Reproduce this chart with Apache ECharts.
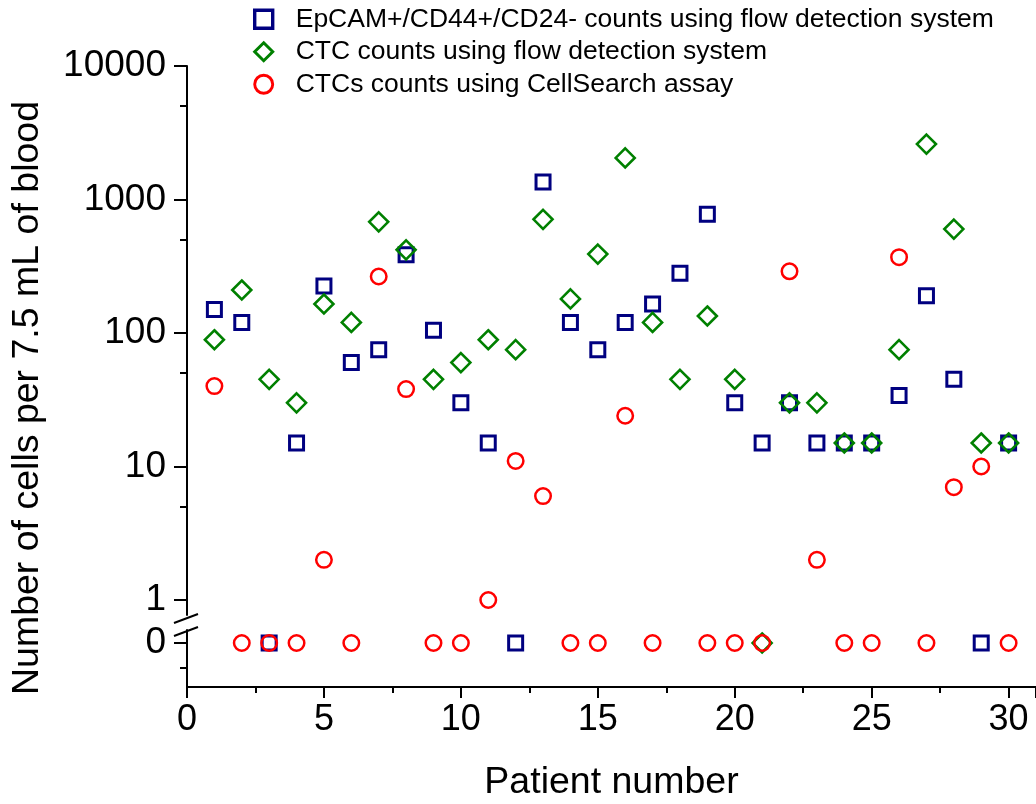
<!DOCTYPE html>
<html>
<head>
<meta charset="utf-8">
<title>CTC counts per patient</title>
<script src="https://cdn.jsdelivr.net/npm/echarts@6.0.0/dist/echarts.min.js"></script>
<style>
  html, body { margin: 0; padding: 0; background: #fff; }
  #chart { width: 1036px; height: 804px; }
</style>
</head>
<body>
<div id="chart"></div>
<script>
// patient numbers 1..30
const patients = [1, 2, 3, 4, 5, 6, 7, 8, 9, 10, 11, 12, 13, 14, 15,
  16, 17, 18, 19, 20, 21, 22, 23, 24, 25, 26, 27, 28, 29, 30];
// cells per 7.5 mL, 0 goes below the axis break, null = no point
const epcamCounts = [150, 120, 0, 15, 225, 60, 75, 385, 105, 30, 15, 0, 1350, 120, 75,
  120, 165, 280, 775, 30, 15, 30, 15, 15, 15, 34, 190, 45, 0, 15];
const ctcFlowCounts = [89, 210, 45, 30, 165, 120, 680, 420, 45, 60, 89, 75, 710, 180, 390,
  2050, 120, 45, 134, 45, 0, 30, 30, 15, 15, 75, 2600, 600, 15, 15];
const cellSearchCounts = [40, 0, 0, 0, 2, 0, 265, 38, 0, 0, 1, 11, 6, 0, 0,
  24, 0, null, 0, 0, 0, 290, 2, 0, 0, 370, 0, 7, 10, 0];
const logTicks = [1, 10, 100, 1000, 10000];
const logMinorTicks = [5, 50, 500, 5000];

const seriesNames = [
  'EpCAM+/CD44+/CD24- counts using flow detection system',
  'CTC counts using flow detection system',
  'CTCs counts using CellSearch assay'
];
const seriesColors = ['#000080', '#008000', '#ff0000'];
const seriesBorders = [3, 2.6, 2.5];

const FONT = '"Liberation Sans", Arial, sans-serif';
const GRID_LEFT = 187;
const GRID_W = 1036 - GRID_LEFT;
const AXIS_LINE = { show: true, onZero: false, lineStyle: { color: '#000', width: 2 } };
const NO_LINE = { show: false, onZero: false };

// positive counts go to the log grid, zeros to the small grid under the break
function positives(vals) {
  const out = [];
  vals.forEach((v, i) => { if (v != null && v > 0) out.push([patients[i], v]); });
  return out;
}
function zeros(vals) {
  const out = [];
  vals.forEach((v, i) => { if (v === 0) out.push([patients[i], 0]); });
  return out;
}

function makeSeries(idx, vals, symbol, size) {
  const base = {
    name: seriesNames[idx],
    type: 'scatter',
    symbol: symbol,
    symbolSize: size,
    itemStyle: {
      color: 'rgba(255,255,255,0)', borderColor: seriesColors[idx],
      borderWidth: seriesBorders[idx], opacity: 1
    },
    emphasis: { disabled: true },
    animation: false
  };
  return [
    Object.assign({}, base, { xAxisIndex: 0, yAxisIndex: 0, data: positives(vals) }),
    Object.assign({}, base, { xAxisIndex: 1, yAxisIndex: 2, data: zeros(vals) })
  ];
}

// short ticks: a right-side axis pulled back onto the left edge, ticks pointing left
function minorTickAxis(gridIndex, type, min, max, values) {
  return {
    gridIndex: gridIndex, type: type, min: min, max: max,
    position: 'right', offset: -GRID_W,
    axisLine: NO_LINE,
    axisTick: { show: true, inside: true, length: 7, customValues: values, lineStyle: { color: '#000', width: 2 } },
    axisLabel: { show: false },
    splitLine: { show: false }
  };
}

const chart = echarts.init(document.getElementById('chart'));
chart.setOption({
  backgroundColor: '#fff',
  animation: false,
  textStyle: { fontFamily: FONT },
  legend: {
    data: seriesNames.map((n, i) => ({
      name: n,
      itemStyle: { borderWidth: seriesBorders[i] + 0.4, borderColor: seriesColors[i] }
    })),
    orient: 'vertical',
    left: 248,
    top: -2,
    itemWidth: 18,
    itemHeight: 18,
    itemGap: 0,
    selectedMode: false,
    textStyle: { fontSize: 26.5, color: '#000', fontFamily: FONT, lineHeight: 32.5, padding: [0, 0, 0, 18] }
  },
  grid: [
    { left: GRID_LEFT, right: 0, top: 66, height: 549, outerBoundsMode: 'none' },
    { left: GRID_LEFT, right: 0, top: 630, bottom: 117, outerBoundsMode: 'none' }
  ],
  xAxis: [
    { gridIndex: 0, type: 'value', min: 0, max: 31, show: false },
    {
      gridIndex: 1, type: 'value', min: 0, max: 31, interval: 5,
      axisLine: AXIS_LINE,
      axisTick: { show: true, length: 11, lineStyle: { color: '#000', width: 2 } },
      minorTick: { show: true, splitNumber: 2, length: 6, lineStyle: { color: '#000', width: 2 } },
      splitLine: { show: false },
      axisLabel: { fontSize: 36, color: '#000', margin: 15, fontFamily: FONT, showMaxLabel: false },
      name: 'Patient number',
      nameLocation: 'middle',
      nameGap: 77,
      nameTextStyle: { fontSize: 37.5, color: '#000', fontFamily: FONT }
    }
  ],
  yAxis: [
    {
      gridIndex: 0, type: 'log', logBase: 10, min: 0.772, max: 10000, position: 'left',
      axisLine: AXIS_LINE,
      axisTick: { show: true, inside: false, length: 13, customValues: logTicks, lineStyle: { color: '#000', width: 2 } },
      axisLabel: {
        fontSize: 37, color: '#000', margin: 21, fontFamily: FONT,
        customValues: logTicks,
        formatter: v => String(Math.round(v))
      },
      splitLine: { show: false }
    },
    minorTickAxis(0, 'log', 0.772, 10000, logMinorTicks),
    {
      gridIndex: 1, type: 'value', min: -1.76, max: 0.52, position: 'left',
      axisLine: AXIS_LINE,
      axisTick: { show: true, inside: false, length: 13, customValues: [0], lineStyle: { color: '#000', width: 2 } },
      axisLabel: {
        fontSize: 37, color: '#000', margin: 21, fontFamily: FONT,
        customValues: [0], formatter: () => '0'
      },
      splitLine: { show: false }
    },
    minorTickAxis(1, 'value', -1.76, 0.52, [-1])
  ],
  series: [].concat(
    makeSeries(0, epcamCounts, 'rect', 14),
    makeSeries(1, ctcFlowCounts, 'diamond', 19),
    makeSeries(2, cellSearchCounts, 'circle', 15.5)
  ),
  graphic: [
    // axis break marks
    { type: 'line', shape: { x1: 174, y1: 623, x2: 198, y2: 614 }, style: { stroke: '#000', lineWidth: 2 } },
    { type: 'line', shape: { x1: 174, y1: 636, x2: 198, y2: 627 }, style: { stroke: '#000', lineWidth: 2 } },
    {
      type: 'text', x: 28, y: 398, rotation: Math.PI / 2,
      style: {
        text: 'Number of cells per 7.5 mL of blood',
        fontSize: 37.5, fontFamily: FONT, fill: '#000',
        textAlign: 'center', textVerticalAlign: 'middle'
      }
    }
  ]
});
</script>
</body>
</html>
